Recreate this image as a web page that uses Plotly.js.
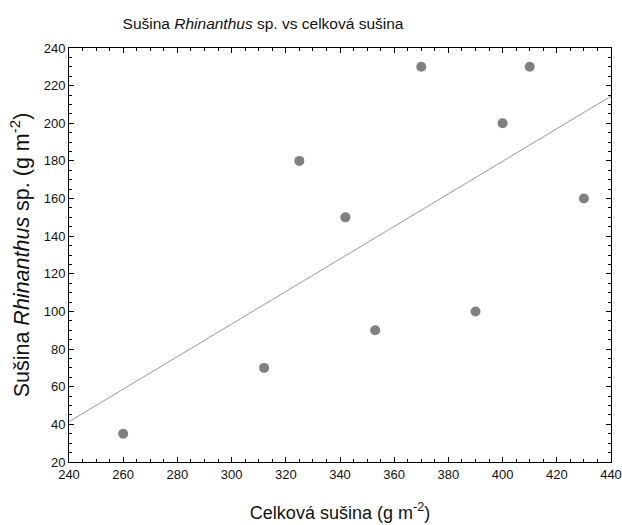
<!DOCTYPE html>
<html>
<head>
<meta charset="utf-8">
<script src="https://cdn.plot.ly/plotly-3.0.1.min.js"></script>
<style>html,body{margin:0;padding:0;background:#fff;}#chart{width:622px;height:525px;}</style>
</head>
<body>
<div id="chart"></div>
<script>
const celkovaSusina = [260, 312, 325, 342, 353, 370, 390, 400, 410, 430];
const susinaRhinanthus = [35, 70, 180, 150, 90, 230, 100, 200, 230, 160];
const xRange = [240, 440];
const yRange = [20, 240];

// least-squares fit line computed from the data
const n = celkovaSusina.length;
const mx = celkovaSusina.reduce((a, b) => a + b, 0) / n;
const my = susinaRhinanthus.reduce((a, b) => a + b, 0) / n;
let sxy = 0, sxx = 0;
for (let i = 0; i < n; i++) {
  sxy += (celkovaSusina[i] - mx) * (susinaRhinanthus[i] - my);
  sxx += (celkovaSusina[i] - mx) ** 2;
}
const slope = sxy / sxx;
const intercept = my - slope * mx;
const fitX = xRange.slice();
const fitY = fitX.map(x => intercept + slope * x);

const font = "Arial, 'Liberation Sans', sans-serif";

const traces = [
  {x: fitX, y: fitY, mode: 'lines', line: {color: '#999999', width: 1}, hoverinfo: 'skip', showlegend: false},
  {x: celkovaSusina, y: susinaRhinanthus, mode: 'markers', type: 'scatter',
   marker: {color: '#808080', size: 10, symbol: 'circle'}, showlegend: false}
];

const axisCommon = {
  showline: true, linecolor: '#000', linewidth: 1, mirror: 'allticks',
  ticks: 'inside', ticklen: 5, tickwidth: 1, tickcolor: '#000',
  showgrid: false, zeroline: false,
  tickfont: {family: font, size: 13, color: '#111'},
  minor: {dtick: 5, ticks: 'inside', ticklen: 3, tickwidth: 1, tickcolor: '#000', showgrid: false}
};

const layout = {
  width: 622, height: 525,
  margin: {l: 69, r: 11, t: 48, b: 63},
  paper_bgcolor: '#fff', plot_bgcolor: '#fff',
  showlegend: false,
  title: {
    text: 'Sušina <i>Rhinanthus</i> sp. vs celková sušina',
    font: {family: font, size: 15.5, color: '#111'},
    xref: 'container', x: 263 / 622, xanchor: 'center',
    yref: 'container', y: 1 - 24 / 525, yanchor: 'middle'
  },
  xaxis: Object.assign({}, axisCommon, {
    range: xRange, dtick: 20, tick0: 240,
    title: {text: 'Celková sušina (g m<sup>-2</sup>)', font: {family: font, size: 18, color: '#111'}, standoff: 25}
  }),
  yaxis: Object.assign({}, axisCommon, {
    range: yRange, dtick: 20, tick0: 20,
    title: {text: 'Sušina <i>Rhinanthus</i> sp. (g m<sup>-2</sup>)', font: {family: font, size: 21.5, color: '#111'}, standoff: 8}
  })
};

Plotly.newPlot('chart', traces, layout, {displayModeBar: false, staticPlot: true});
</script>
</body>
</html>
